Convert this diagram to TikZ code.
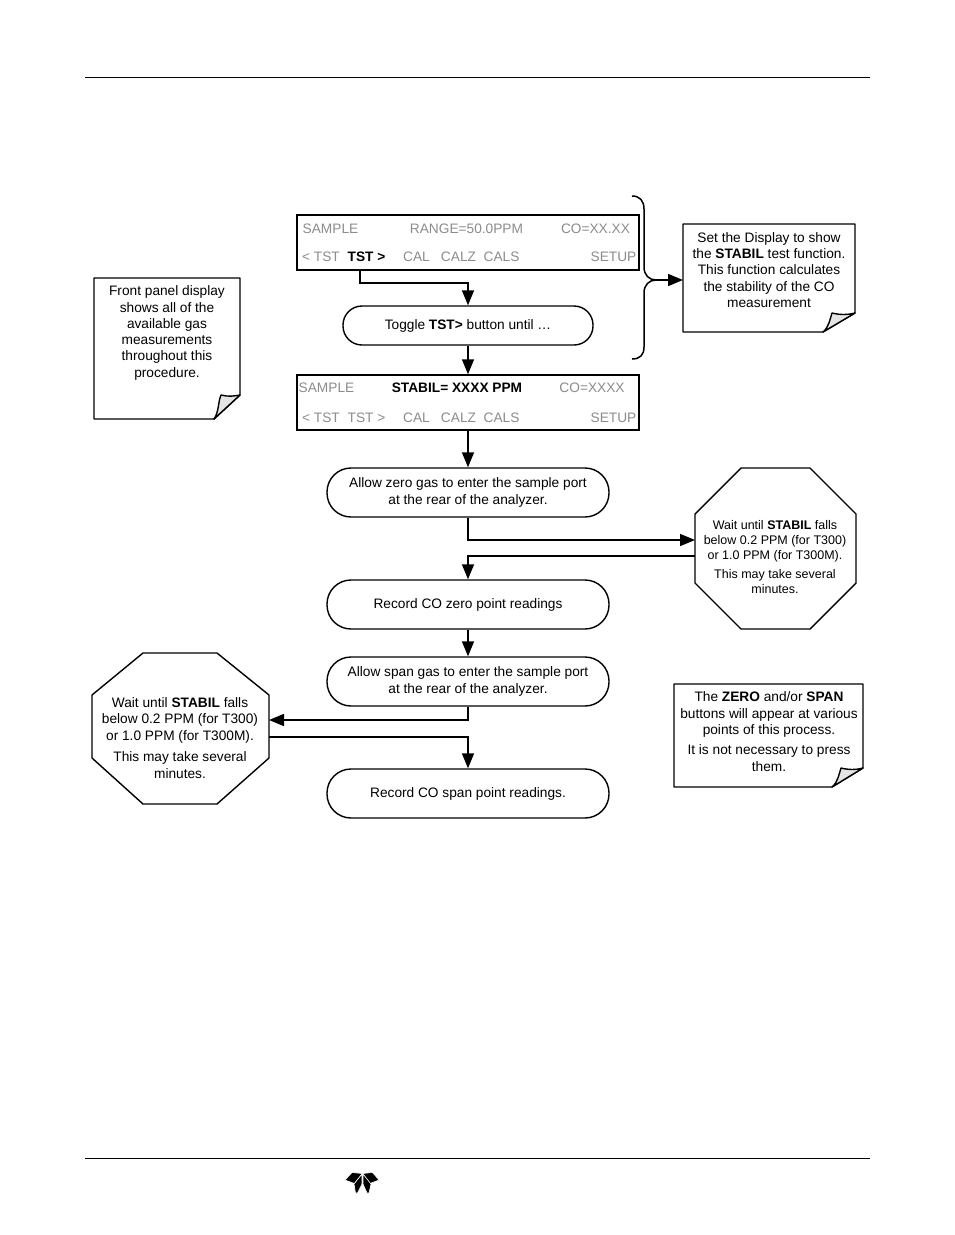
\documentclass[tikz,border=0pt]{standalone}
\usepackage{fontspec}
\setmainfont{Liberation Sans}
\usetikzlibrary{arrows.meta,calc}
\tikzset{
  x=1pt,y=-1pt,
  box/.style={draw=black,line width=1.4pt,fill=white,anchor=center,inner sep=0pt},
  disp/.style={box,minimum width=342pt,minimum height=55pt},
  pill/.style={box,rounded corners=19pt,font=\fontsize{13.7}{16.5}\selectfont,align=center},
  gtext/.style={text=gray!90,font=\fontsize{13.7}{16}\selectfont,inner sep=0pt,anchor=base},
  btext/.style={text=black,font=\fontsize{13.7}{16}\selectfont\bfseries,inner sep=0pt,anchor=base},
  txt/.style={font=\fontsize{13.7}{16.3}\selectfont,align=center,inner sep=0pt},
  stxt/.style={font=\fontsize{12.5}{15.2}\selectfont,align=center,inner sep=0pt},
  outline/.style={draw=black,line width=1.4pt,fill=white,line join=round},
  fold/.style={draw=black,line width=1.4pt,fill=black!10,line join=round},
  flow/.style={draw=black,line width=1.6pt,-{Triangle[length=15pt,width=12pt]}},
  plainline/.style={draw=black,line width=1.5pt},
  rule/.style={draw=black,line width=0.9pt},
  petal/.style={fill=black,draw=white,line width=0.6pt,line join=round}
}
\begin{document}
\begin{tikzpicture}
\useasboundingbox (0,0) rectangle (954,1235);
\fill[white] (0,0) rectangle (954,1235);

% page rules
\coordinate (hl) at (85,77); \coordinate (hr) at (870,77);
\coordinate (fl) at (85,1158); \coordinate (fr) at (870,1158);
\draw[rule] (hl) -- (hr);
\draw[rule] (fl) -- (fr);

% logo
\path[petal] (345,1180) -- (352,1172.5) -- (362.5,1173.5) -- (354.5,1183.5) -- cycle;
\path[petal] (379,1180) -- (372.5,1172.5) -- (362.5,1173.5) -- (370,1183.5) -- cycle;
\path[petal] (362,1174) -- (354,1184) -- (355.5,1193) -- (357.5,1193) -- (362,1184) -- cycle;
\path[petal] (363,1174) -- (371,1184) -- (369,1193) -- (367,1193) -- (363,1184) -- cycle;

% displays
\node[disp] (d1) at (468,242.5) {};
\node[disp] (d2) at (468,402.5) {};
\node[gtext,anchor=base west] (d1a) at (302.5,233) {SAMPLE};
\node[gtext] (d1b) at (466.5,233) {RANGE=50.0PPM};
\node[gtext] (d1c) at (595.5,233) {CO=XX.XX};
\node[gtext] (d1d) at (321,261) {< TST};
\node[btext] (d1e) at (366.5,261) {TST >};
\node[gtext] (d1f) at (416.5,261) {CAL};
\node[gtext] (d1g) at (458.5,261) {CALZ};
\node[gtext] (d1h) at (501.5,261) {CALS};
\node[gtext] (d1i) at (613.5,261) {SETUP};

\node[gtext,anchor=base west] (d2a) at (298.5,392.5) {SAMPLE};
\node[btext] (d2b) at (457,392.5) {STABIL= XXXX PPM};
\node[gtext] (d2c) at (592,392.5) {CO=XXXX};
\node[gtext] (d2d) at (321,422) {< TST};
\node[gtext] (d2e) at (366.5,422) {TST >};
\node[gtext] (d2f) at (416.5,422) {CAL};
\node[gtext] (d2g) at (458.5,422) {CALZ};
\node[gtext] (d2h) at (501.5,422) {CALS};
\node[gtext] (d2i) at (613.5,422) {SETUP};

% pills
\node[pill,minimum width=250pt,minimum height=39pt] (toggle) at (468,325.5) {Toggle \textbf{TST>} button until …};
\node[pill,rounded corners=24pt,minimum width=282pt,minimum height=49pt] (azero) at (468,492.5) {Allow zero gas to enter the sample port\\at the rear of the analyzer.};
\node[pill,rounded corners=24pt,minimum width=282pt,minimum height=49pt] (rzero) at (468,604.5) {Record CO zero point readings};
\node[pill,rounded corners=24pt,minimum width=282pt,minimum height=49pt] (aspan) at (468,681.5) {Allow span gas to enter the sample port\\at the rear of the analyzer.};
\node[pill,rounded corners=24pt,minimum width=282pt,minimum height=49pt] (rspan) at (468,793.5) {Record CO span point readings.};

% notes
\draw[outline] (94,278) -- (240,278) -- (240,395) -- (214,419) -- (94,419) -- cycle;
\draw[fold] (214,419) .. controls (219,412) and (218,402) .. (221,395) .. controls (228,397) and (235,396) .. (240,395) -- cycle;
\node[txt] (n1) at (167,333) {Front panel display\\shows all of the\\available gas\\measurements\\throughout this\\procedure.};

\draw[outline] (683,224) -- (855,224) -- (855,313) -- (823,332) -- (683,332) -- cycle;
\draw[fold] (823,332) .. controls (829,327) and (830,319) .. (832,313) .. controls (840,315) and (848,315) .. (855,313) -- cycle;
\node[txt] (n2) at (769,270) {Set the Display to show\\the \textbf{STABIL} test function.\\This function calculates\\the stability of the CO\\measurement};

\draw[outline] (674,684) -- (863,684) -- (863,768) -- (832,787) -- (674,787) -- cycle;
\draw[fold] (832,787) .. controls (838,782) and (839,774) .. (841,768) .. controls (849,770) and (856,770) .. (863,768) -- cycle;
\node[txt] (n3) at (769,731.5) {The \textbf{ZERO} and/or \textbf{SPAN}\\buttons will appear at various\\points of this process.\\[4pt]It is not necessary to press\\them.};

% octagons
\draw[outline] (741,468) -- (810,468) -- (856,514) -- (856,583) -- (810,629) -- (741,629) -- (695,583) -- (695,514) -- cycle;
\node[stxt] (o1) at (775,557) {Wait until \textbf{STABIL} falls\\below 0.2 PPM (for T300)\\or 1.0 PPM (for T300M).\\[4pt]This may take several\\minutes.};
\coordinate (o1in) at (695,540);
\coordinate (o1out) at (695,556);

\draw[outline] (143,653) -- (217,653) -- (269,695) -- (269,758) -- (217,804) -- (143,804) -- (92,758) -- (92,695) -- cycle;
\node[txt] (o2) at (180,738) {Wait until \textbf{STABIL} falls\\below 0.2 PPM (for T300)\\or 1.0 PPM (for T300M).\\[5.5pt]This may take several\\minutes.};
\coordinate (o2in) at (269,720);
\coordinate (o2out) at (269,737);

% connectors
\coordinate (tstdown) at (360,270);
\draw[flow] (tstdown) |- (468,283) -- (toggle.north);
\draw[flow] (toggle.south) -- (d2.north);
\draw[flow] (d2.south) -- (azero.north);
\draw[flow] (azero.south) |- (o1in);
\draw[flow] (o1out) -| (rzero.north);
\draw[flow] (rzero.south) -- (aspan.north);
\draw[flow] (aspan.south) |- (o2in);
\draw[flow] (o2out) -| (rspan.north);

% brace
\coordinate (bt) at (632,196);
\coordinate (bb) at (632,359);
\coordinate (bm) at (656,280);
\coordinate (n2w) at (683,280);
\draw[plainline] (bt) .. controls (640,196) and (644,201) .. (644,209) -- (644,267) .. controls (644,275) and (649,280) .. (bm)
  .. controls (649,280) and (644,285) .. (644,293) -- (644,347) .. controls (644,355) and (640,359) .. (bb);
\draw[flow] (bm) -- (n2w);
\end{tikzpicture}
\end{document}
